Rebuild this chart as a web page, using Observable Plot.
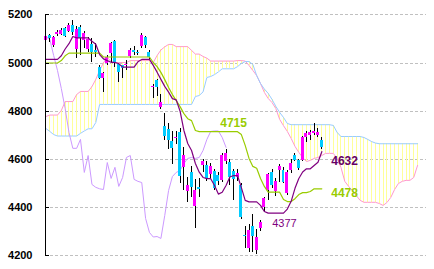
<!DOCTYPE html>
<html><head><meta charset="utf-8">
<script src="https://cdn.jsdelivr.net/npm/d3@7"></script>
<script src="https://cdn.jsdelivr.net/npm/@observablehq/plot@0.6"></script>
<style>html,body{margin:0;padding:0;background:#fff}</style>
</head><body><div id="chart"></div>
<script>
// candles (index 0..72)
const open  = [5095,5114,5073,5117,5120,5142,5132,5157,5056,5149, 5095,5056,5077,5050,4983,4934,4997,5038,5090,4994,
               4988,4988,5027,5052,5045,5068,5107,5045,4898,4927, 4817,4736,4723,4676,4685,4713,4568,4468,4547,4405,
               4482,4575,4575,4537,4551,4533,4513,4590,4588,4550, 4525,4492,4285,4229,4321,4222,4312,4402,4471,4547,
               4467,4555,4555,4458,4554,4616,4596,4596,4692,4700, 4706,4700,4678];
const close = [5110,5103,5107,5128,5134,5110,5157,5125,5139,5100, 5121,5097,5042,5045,4934,4955,5024,5080,5000,4960,
               4977,4995,5052,5045,5038,5114,5073,5024,4903,4897, 4837,4694,4678,4644,4690,4529,4616,4492,4482,4471,
               4477,4592,4520,4571,4480,4510,4616,4623,4524,4515, 4540,4360,4280,4305,4282,4275,4339,4437,4537,4490,
               4510,4570,4506,4547,4585,4596,4561,4690,4706,4712, 4716,4712,4650];
const high  = [5118,5120,5112,5135,5145,5149,5162,5176,5150,5155, 5130,5105,5100,5080,4990,4960,5030,5086,5092,5000,
               4983,5010,5060,5070,5050,5121,5110,5050,4910,4930, 4870,4790,4750,4715,4715,4730,4650,4526,4570,4516,
               4520,4600,4590,4585,4560,4545,4625,4640,4600,4560, 4560,4500,4320,4330,4370,4310,4345,4440,4541,4560,
               4520,4578,4565,4555,4600,4625,4600,4695,4715,4720, 4748,4730,4690];
const low   = [5090,5086,5066,5110,5115,5105,5125,5115,5017,5031, 5060,5045,5003,5024,4930,4879,4990,4997,4983,4920,
               4934,4969,5020,5030,5030,5060,5060,5010,4852,4860, 4808,4680,4640,4580,4660,4500,4470,4423,4440,4313,
               4440,4545,4510,4520,4470,4490,4505,4580,4490,4430, 4510,4350,4230,4215,4215,4205,4300,4381,4430,4480,
               4445,4505,4500,4450,4540,4590,4555,4590,4670,4680, 4700,4690,4640];
// conversion line (purple) and base line (green)
const tenkan = [5015,5015,5015,5015,5030,5058,5080,5110,5104,5104, 5104,5104,5090,5078,5035,5017,5010,5003,5003,4997,
                4983,4983,4983,4983,5005,5015,5015,5015,4990,4962, 4932,4903,4879,4852,4847,4800,4720,4666,4637,4583,
                4547,4525,4520,4520,4492,4456,4464,4492,4527,4533, 4533,4483,4430,4424,4424,4424,4409,4384,4377,4377,
                4377,4377,4377,4394,4426,4480,4521,4548,4561,4561, 4575,4588,4632];
const kijun  = [5000,5000,5000,5000,5010,5030,5041,5041,5041,5041, 5041,5041,5041,5041,5041,5025,5025,5025,5025,5025,
                5025,5025,5025,5025,5025,5025,5025,5025,5002,4985, 4961,4931,4898,4869,4844,4819,4790,4769,4761,4720,
                4715,4715,4715,4715,4715,4715,4715,4715,4715,4715, 4715,4703,4658,4604,4571,4563,4521,4488,4464,4464,
                4464,4464,4434,4425,4425,4437,4454,4462,4462,4467, 4478,4478,4478];
// leading spans (index 0..97)
const spanA = [4778,4784,4784,4784,4803,4840,4840,4840,4869,4882, 4882,4882,4902,4932,4969,5001,5023,5006,5002,5002,
               5002,5002,5010,5010,5010,5010,5010,5010,5002,5031, 5054,5067,5077,5077,5068,5068,5068,5068,5052,5037,
               5037,5027,5020,5008,5008,5008,5008,5008,5008,5008, 5010,5010,5008,4990,4969,4948,4915,4878,4853,4836,
               4811,4766,4740,4716,4687,4654,4629,4608,4591,4596, 4604,4608,4616,4625,4625,4625,4604,4567,4509,4488,
               4471,4450,4430,4422,4422,4422,4422,4417,4409,4421, 4442,4475,4500,4509,4513,4513,4525,4575];
const spanB = [4728,4716,4703,4697,4697,4697,4697,4697,4697,4708, 4718,4727,4727,4753,4828,4828,4828,4828,4828,4828,
               4828,4828,4828,4828,4828,4828,4828,4828,4828,4828, 4828,4828,4828,4828,4828,4828,4828,4828,4828,4861,
               4865,4880,4940,4944,4952,4963,4976,4976,4976,4976, 4985,4998,5006,5006,4994,4948,4915,4892,4874,4849,
               4820,4795,4774,4749,4744,4744,4744,4744,4744,4744, 4744,4744,4744,4744,4744,4741,4712,4695,4695,4695,
               4695,4695,4695,4691,4683,4674,4668,4665,4665,4665, 4665,4665,4665,4665,4665,4665,4665,4665];
// lagging span (index 0..47)
const chikou = [5109,5098,5031,4969,4894,4811,4712,4646,4646,4683, 4546,4616,4496,4484,4478,4475,4587,4521,4567,4488,
                4525,4608,4616,4517,4509,4504,4355,4297,4278,4280, 4272,4367,4471,4529,4546,4554,4583,4604,4608,4604,
                4608,4637,4683,4716,4718,4718,4691,4650];
const yTicks = [4200,4400,4600,4800,5000,5200];
const noteValues = [4715, 4632, 4478, 4377];

const candles = open.map((o,i)=>({i, o, h:high[i], l:low[i], c:close[i]}));
const cloud = spanA.map((a,i)=>({i, a, b:spanB[i]}));
const series = arr => arr.map((v,i)=>({i, v}));

const X0 = -0.13, X1 = 99.2;
const FONT = "'Liberation Sans', Arial, sans-serif";

const chart = Plot.plot({
  width: 434, height: 269,
  marginLeft: 45, marginRight: 8.5, marginTop: 14.3, marginBottom: 13.7,
  style: {fontFamily: FONT, background: "#fff", overflow: "visible"},
  x: {domain: [X0, X1], axis: null},
  y: {domain: [4200, 5200], axis: null},
  marks: [
    Plot.ruleY(yTicks, {stroke: "#c0c0c0", strokeDasharray: "3,2", shapeRendering: "crispEdges"}),
    Plot.ruleX(cloud, {x: "i", y1: "a", y2: "b", stroke: "#ffff99", shapeRendering: "crispEdges"}),
    Plot.line(series(spanA), {x: "i", y: "v", stroke: "#ff99cc", strokeWidth: 1}),
    Plot.line(series(spanB), {x: "i", y: "v", stroke: "#99ccff", strokeWidth: 1}),
    Plot.line(series(chikou), {x: "i", y: "v", stroke: "#cc99ff", strokeWidth: 1}),
    Plot.ruleX(candles, {x: "i", y1: "l", y2: "h", stroke: "#000", shapeRendering: "crispEdges"}),
    Plot.rect(candles, {x1: d => d.i - 0.39, x2: d => d.i + 0.39, y1: "o", y2: "c",
      fill: d => d.c >= d.o ? "#ff00ff" : "#00ccff", shapeRendering: "crispEdges"}),
    Plot.line(series(kijun), {x: "i", y: "v", stroke: "#99cc00", strokeWidth: 1.2}),
    Plot.line(series(tenkan), {x: "i", y: "v", stroke: "#800080", strokeWidth: 1.2}),
    Plot.ruleX([X0], {y1: 4200, y2: 5200, stroke: "#000", shapeRendering: "crispEdges"}),
    Plot.ruleY(yTicks, {x1: X0, x2: X0 + 1.05, stroke: "#000", shapeRendering: "crispEdges"}),
    Plot.text(yTicks, {x: () => X0, y: d => d, text: d => String(d), textAnchor: "end", dx: -13,
      fontSize: 11, fontWeight: "bold", fill: "#000"}),
    Plot.text([noteValues[0]], {x: () => 48.96, y: d => d, text: d => String(d), textAnchor: "middle", dy: -8.7,
      fontSize: 12, fontWeight: "bold", fill: "#99cc00"}),
    Plot.text([noteValues[1]], {x: () => 74.47, y: d => d, text: d => String(d), textAnchor: "start", dy: 9.3,
      fontSize: 12, fontWeight: "bold", fill: "#660066"}),
    Plot.text([noteValues[2]], {x: () => 74.47, y: d => d, text: d => String(d), textAnchor: "start", dy: 3.9,
      fontSize: 12, fontWeight: "bold", fill: "#99cc00"}),
    Plot.text([noteValues[3]], {x: () => 59.06, y: d => d, text: d => String(d), textAnchor: "start", dy: 9.9,
      fontSize: 11, fill: "#800080"})
  ]
});
document.getElementById("chart").appendChild(chart);
</script>
</body></html>
